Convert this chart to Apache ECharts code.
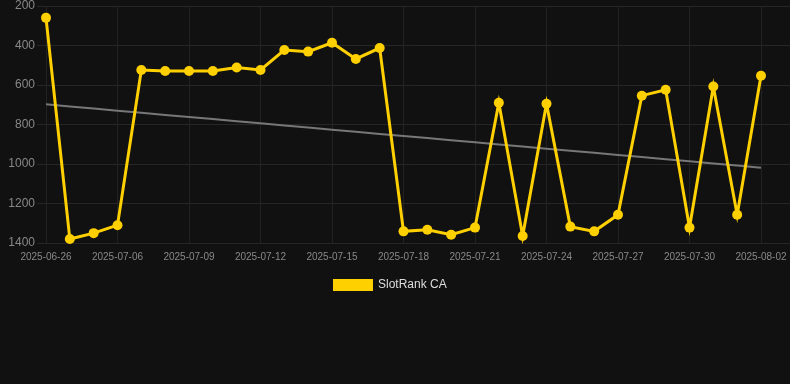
<!DOCTYPE html>
<html>
<head>
<meta charset="utf-8">
<script src="https://cdn.jsdelivr.net/npm/echarts@6/dist/echarts.min.js"></script>
<style>
html,body{margin:0;padding:0;background:#111111;}
#chart{width:790px;height:384px;}
</style>
</head>
<body>
<div id="chart"></div>
<script>
var categories = ['2025-06-26','2025-07-04','2025-07-05','2025-07-06','2025-07-07','2025-07-08','2025-07-09','2025-07-10','2025-07-11','2025-07-12','2025-07-13','2025-07-14','2025-07-15','2025-07-16','2025-07-17','2025-07-18','2025-07-19','2025-07-20','2025-07-21','2025-07-22','2025-07-23','2025-07-24','2025-07-25','2025-07-26','2025-07-27','2025-07-28','2025-07-29','2025-07-30','2025-07-31','2025-08-01','2025-08-02'];
var rankValues = [260,1380,1350,1310,524,529,529,529,511,524,423,431,386,468,413,1341,1333,1358,1322,690,1365,695,1317,1341,1257,654,624,1322,608,1257,553];
var seriesName = 'SlotRank CA';
var yTicks = [200,400,600,800,1000,1200,1400];

// least-squares trend line from the data
var n = rankValues.length, sx=0, sy=0, sxx=0, sxy=0;
for (var i=0;i<n;i++){ sx+=i; sy+=rankValues[i]; sxx+=i*i; sxy+=i*rankValues[i]; }
var slope = (n*sxy - sx*sy)/(n*sxx - sx*sx);
var icpt = (sy - slope*sx)/n;
var trend = rankValues.map(function(_,i){ return +(icpt + slope*i).toFixed(2); });

var chart = echarts.init(document.getElementById('chart'));
chart.setOption({
  backgroundColor:'#111111',
  animation:false,
  grid:[
    {left:37,right:0,top:6,bottom:141},
    {left:46,right:29,top:6,bottom:141}
  ],
  legend:{
    data:[{name:seriesName, icon:'rect'}],
    top:274, left:328,
    itemWidth:40, itemHeight:12,
    textStyle:{color:'#dddddd',fontSize:12,fontFamily:'Liberation Sans, Arial, sans-serif'}
  },
  xAxis:[
    {gridIndex:0,type:'value',show:false,min:0,max:1},
    {gridIndex:1,type:'category',data:categories,boundaryGap:false,
     axisLine:{show:false},axisTick:{show:false},
     axisLabel:{interval:2,color:'#888888',fontSize:10,margin:9,fontFamily:'Liberation Sans, Arial, sans-serif'},
     splitLine:{show:true,interval:2,lineStyle:{color:'#222222',width:1}}}
  ],
  yAxis:[
    {gridIndex:0,type:'value',inverse:true,min:yTicks[0],max:yTicks[yTicks.length-1],interval:200,
     axisLine:{show:false},axisTick:{show:false},
     axisLabel:{color:'#888888',fontSize:12,margin:2,fontFamily:'Liberation Sans, Arial, sans-serif',
       formatter:function(v){return String(v);}},
     splitLine:{show:true,lineStyle:{color:'#262626',width:1}}},
    {gridIndex:1,type:'value',inverse:true,min:yTicks[0],max:yTicks[yTicks.length-1],interval:200,
     show:false,splitLine:{show:false}}
  ],
  series:[
    {name:'trend',type:'line',xAxisIndex:1,yAxisIndex:1,data:trend,symbol:'none',
     lineStyle:{color:'#777777',width:2},silent:true,z:1},
    {name:seriesName,type:'line',xAxisIndex:1,yAxisIndex:1,data:rankValues,
     symbol:'circle',symbolSize:10,
     itemStyle:{color:'#FFD000'},
     lineStyle:{color:'#FFD000',width:3,join:'miter'},z:2}
  ]
});
</script>
</body>
</html>
